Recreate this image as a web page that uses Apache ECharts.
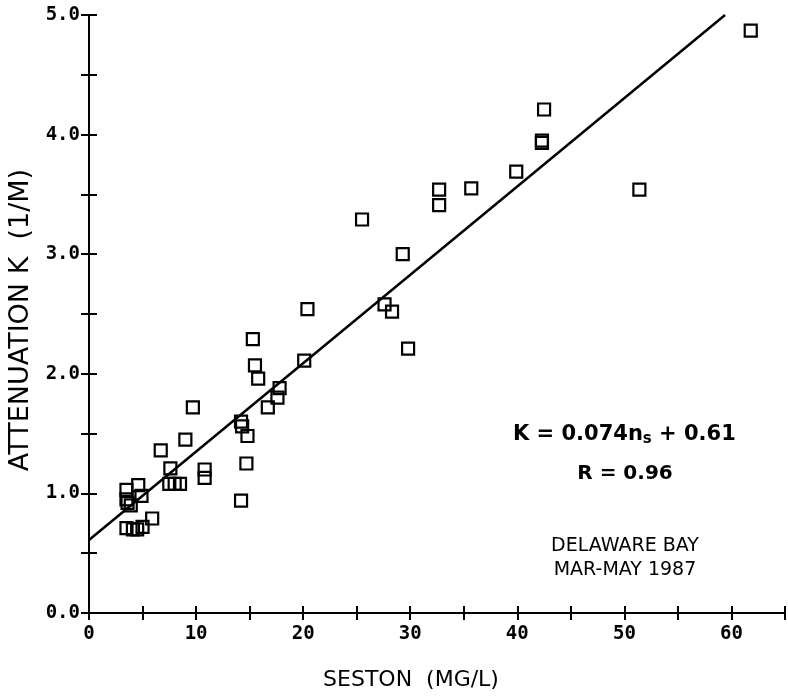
<!DOCTYPE html>
<html>
<head>
<meta charset="utf-8">
<script src="https://cdn.jsdelivr.net/npm/echarts@6/dist/echarts.min.js"></script>
<style>
html,body{margin:0;padding:0;background:#fff;}
#chart{width:788px;height:696px;}
</style>
</head>
<body>
<div id="chart"></div>
<script>
// Seston (mg/L) and attenuation K (1/m)
const seston = [3.5,4.6,4.9,3.5,3.6,3.9,3.5,4.1,4.5,5.0,5.9,
                6.7,7.6,7.5,8.0,8.5,9.0,9.7,10.8,10.8,
                14.2,14.3,14.8,14.7,14.2,15.3,15.5,15.8,16.7,17.6,17.8,20.1,20.4,
                25.5,27.6,28.3,29.3,29.8,32.7,32.7,35.7,39.9,42.3,42.3,42.5,51.4,61.8];
const attenK = [1.03,1.07,0.98,0.95,0.92,0.90,0.71,0.70,0.70,0.72,0.79,
                1.36,1.21,1.08,1.08,1.08,1.45,1.72,1.20,1.13,
                1.60,1.56,1.48,1.25,0.94,2.29,2.07,1.96,1.72,1.80,1.88,2.11,2.54,
                3.29,2.58,2.52,3.00,2.21,3.54,3.41,3.55,3.69,3.93,3.95,4.21,3.54,4.87];
// regression line endpoints K = 0.074 n_s + 0.61
const fitX = [0, 59.4];
const fitY = [0.61, 5.0];
const xTitle = 'SESTON  (MG/L)';
const yTitle = 'ATTENUATION K  (1/M)';
const noteEq = 'K = 0.074n{sub|s} + 0.61';
const noteR = 'R = 0.96';
const noteSite = ['DELAWARE BAY', 'MAR-MAY 1987'];

const points = seston.map((x, i) => [x, attenK[i]]);
const fit = fitX.map((x, i) => [x, fitY[i]]);

const monoBold = {fontFamily: 'DejaVu Sans Mono', fontWeight: 'bold', fontSize: 19, color: '#000'};
const axLine = {show: true, lineStyle: {color: '#000', width: 2}};

const chart = echarts.init(document.getElementById('chart'), null, {renderer: 'canvas'});
chart.setOption({
  backgroundColor: '#fff',
  animation: false,
  grid: {left: 89, right: 1, top: 15, bottom: 81, containLabel: false},
  xAxis: [{
    type: 'value', min: 0, max: 65, interval: 5,
    axisLine: axLine, splitLine: {show: false},
    axisTick: {show: true, inside: false, length: 7, lineStyle: {color: '#000', width: 2}},
    axisLabel: Object.assign({margin: 12, formatter: v => (v % 10 === 0 && v <= 60) ? String(v) : ''}, monoBold),
    name: xTitle, nameLocation: 'middle', nameGap: 56,
    nameTextStyle: {fontFamily: 'DejaVu Sans', fontSize: 22, color: '#000', padding: [0, 52, 0, 0]}
  }, {
    type: 'value', min: 0, max: 65, interval: 5, position: 'bottom',
    axisLine: axLine, splitLine: {show: false},
    axisTick: {show: true, inside: true, length: 7, lineStyle: {color: '#000', width: 2}},
    axisLabel: {show: false}
  }],
  yAxis: [{
    type: 'value', min: 0, max: 5, interval: 0.5,
    axisLine: axLine, splitLine: {show: false},
    axisTick: {show: true, inside: false, length: 8, lineStyle: {color: '#000', width: 2}},
    axisLabel: Object.assign({margin: 9, formatter: v => (Math.abs(v - Math.round(v)) < 1e-9) ? v.toFixed(1) : ''}, monoBold)
  }, {
    type: 'value', min: 0, max: 5, interval: 0.5, position: 'left',
    axisLine: axLine, splitLine: {show: false},
    axisTick: {show: true, inside: true, length: 8, lineStyle: {color: '#000', width: 2}},
    axisLabel: {show: false}
  }],
  series: [{
    type: 'line', data: fit, xAxisIndex: 0, yAxisIndex: 0,
    showSymbol: false, symbol: 'none',
    lineStyle: {color: '#000', width: 2.5}, z: 2
  }, {
    type: 'scatter', data: points, xAxisIndex: 0, yAxisIndex: 0,
    symbol: 'rect', symbolSize: 12,
    itemStyle: {color: 'rgba(0,0,0,0)', borderColor: '#000', borderWidth: 2.2, opacity: 1},
    z: 3
  }],
  graphic: [{
    type: 'text', x: 21, y: 320, rotation: Math.PI / 2,
    style: {text: yTitle, fontFamily: 'DejaVu Sans', fontSize: 27, fill: '#000', align: 'center', verticalAlign: 'middle'}
  }, {
    type: 'text', left: 513, top: 424,
    style: {
      text: noteEq, fontFamily: 'DejaVu Sans', fontWeight: 'bold', fontSize: 21, fill: '#000',
      rich: {sub: {fontFamily: 'DejaVu Sans', fontWeight: 'bold', fontSize: 15, padding: [10, 0, 0, 0]}}
    }
  }, {
    type: 'text', x: 625, y: 474,
    style: {text: noteR, fontFamily: 'DejaVu Sans', fontWeight: 'bold', fontSize: 20, fill: '#000', align: 'center', verticalAlign: 'middle'}
  }, {
    type: 'text', x: 625, y: 546,
    style: {text: noteSite[0], fontFamily: 'DejaVu Sans', fontSize: 19, fill: '#000', align: 'center', verticalAlign: 'middle'}
  }, {
    type: 'text', x: 625, y: 570,
    style: {text: noteSite[1], fontFamily: 'DejaVu Sans', fontSize: 19, fill: '#000', align: 'center', verticalAlign: 'middle'}
  }]
});
</script>
</body>
</html>
